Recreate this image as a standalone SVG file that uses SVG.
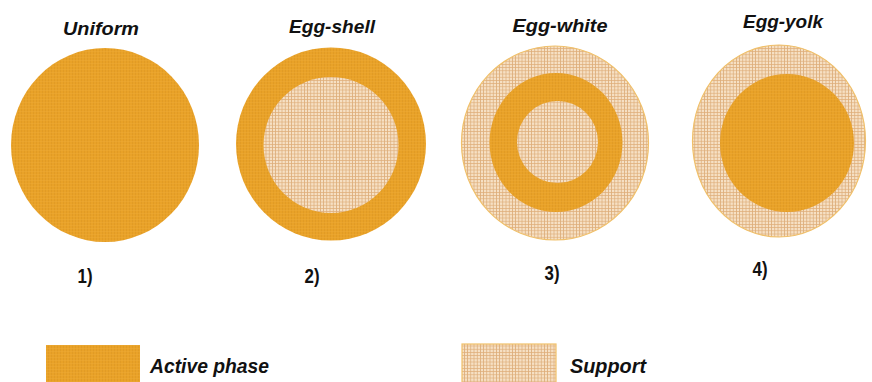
<svg xmlns="http://www.w3.org/2000/svg" width="872" height="382" viewBox="0 0 872 382">
  <defs>
    <pattern id="pActive" width="3" height="3" patternUnits="userSpaceOnUse">
      <rect width="3" height="3" fill="#E9A228"/>
      <rect x="0" y="0" width="0.6" height="3" fill="#DC9622"/>
      <rect x="0" y="0" width="3" height="0.5" fill="#EEAA35"/>
    </pattern>
    <pattern id="pSupport" width="3.2" height="3.2" patternUnits="userSpaceOnUse">
      <rect width="3.2" height="3.2" fill="#F6E0C4"/>
      <rect x="0" y="0" width="0.7" height="3.2" fill="#D9A772"/>
      <rect x="0" y="0" width="3.2" height="0.7" fill="#DFAE7A"/>
    </pattern>
  </defs>
  <style>
    .act { fill: url(#pActive); }
    .sup { fill: url(#pSupport); stroke: #F0C06A; stroke-width: 1.2; }
    .core { fill: url(#pSupport); }
    .title { font-family: "Liberation Sans", Arial, sans-serif; font-weight: bold; font-style: italic; font-size: 18px; fill: #111; text-anchor: middle; }
    .num { font-family: "Liberation Sans", Arial, sans-serif; font-weight: bold; font-size: 20px; fill: #111; text-anchor: middle; }
    .leg { font-family: "Liberation Sans", Arial, sans-serif; font-weight: bold; font-style: italic; font-size: 20px; fill: #111; }
  </style>
  <rect width="872" height="382" fill="#FFFFFF"/>

  <g id="uniform">
    <text class="title" x="101" y="35" textLength="76" lengthAdjust="spacingAndGlyphs">Uniform</text>
    <ellipse class="act" cx="105" cy="145" rx="94" ry="97"/>
    <text class="num" x="85" y="283" textLength="15" lengthAdjust="spacingAndGlyphs">1)</text>
  </g>

  <g id="egg-shell">
    <text class="title" x="332" y="33" textLength="86" lengthAdjust="spacingAndGlyphs">Egg-shell</text>
    <ellipse class="act" cx="331" cy="144" rx="95" ry="96.5"/>
    <ellipse class="core" cx="331" cy="145" rx="67.5" ry="68"/>
    <text class="num" x="312" y="283" textLength="15" lengthAdjust="spacingAndGlyphs">2)</text>
  </g>

  <g id="egg-white">
    <text class="title" x="560" y="32" textLength="95" lengthAdjust="spacingAndGlyphs">Egg-white</text>
    <ellipse class="sup" cx="555" cy="143" rx="93.5" ry="97"/>
    <ellipse class="act" cx="556" cy="142.5" rx="66.5" ry="69.5"/>
    <ellipse class="core" cx="557.5" cy="142" rx="40.5" ry="41"/>
    <text class="num" x="552" y="280" textLength="15" lengthAdjust="spacingAndGlyphs">3)</text>
  </g>

  <g id="egg-yolk">
    <text class="title" x="783" y="28" textLength="80" lengthAdjust="spacingAndGlyphs">Egg-yolk</text>
    <ellipse class="sup" cx="779" cy="141" rx="86.5" ry="96"/>
    <ellipse class="act" cx="787" cy="143" rx="67" ry="69"/>
    <text class="num" x="760" y="276" textLength="15" lengthAdjust="spacingAndGlyphs">4)</text>
  </g>

  <g id="legend-active">
    <rect class="act" x="46" y="345" width="94" height="40"/>
    <text class="leg" x="150" y="373" textLength="119" lengthAdjust="spacingAndGlyphs">Active phase</text>
  </g>

  <g id="legend-support">
    <rect class="sup" x="462" y="344" width="94" height="42"/>
    <text class="leg" x="570" y="373" textLength="76" lengthAdjust="spacingAndGlyphs">Support</text>
  </g>
</svg>
